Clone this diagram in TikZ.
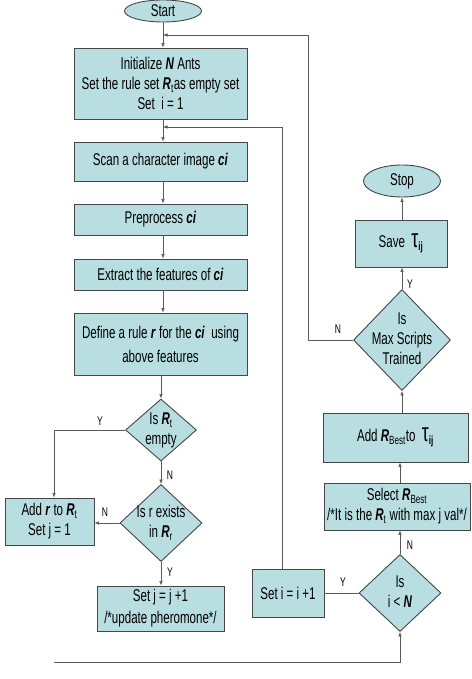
\documentclass[tikz,border=0pt]{standalone}
\usepackage{fontspec}
\setmainfont{Liberation Sans}[FakeStretch=0.68]
\usetikzlibrary{shapes.geometric,arrows.meta}
\definecolor{boxfill}{RGB}{184,222,226}
\definecolor{boxline}{RGB}{70,70,70}
\definecolor{conn}{RGB}{90,90,90}
\newcommand{\bi}[1]{\textbf{\textit{#1}}}
\newcommand{\tauij}{{\fontsize{26}{26}\selectfont τ}\textsubscript{\textbf{ij}}}
\newcommand{\dtext}[1]{\makebox[0pt]{\smash{\raisebox{-0.3em}{\begin{tabular}{@{}c@{}}#1\end{tabular}}}}}
\begin{document}
\begin{tikzpicture}[x=1pt,y=-1pt,
  every node/.style={font=\fontsize{17}{20}\selectfont},
  procbox/.style={draw=boxline,fill=boxfill,line width=0.9pt,rectangle,align=center,inner sep=1pt},
  termin/.style={draw=boxline,fill=boxfill,line width=0.9pt,ellipse,inner sep=0pt},
  decide/.style={draw=boxline,fill=boxfill,line width=0.9pt,diamond,inner sep=0pt},
  conline/.style={draw=conn,line width=0.6pt},
  arr/.style={conline,-{Latex[length=4.5pt,width=3.5pt]}},
  lbl/.style={font=\fontsize{12.5}{14}\selectfont,inner sep=0pt}
]
\useasboundingbox (0,0) rectangle (471,679);
% terminals
\node[termin,minimum width=77pt,minimum height=22pt] (start) at (163,11) {Start};
\node[termin,minimum width=77pt,minimum height=32pt] (stop) at (402,181) {Stop};
% left column
\node[procbox,minimum width=173pt,minimum height=71pt] (init) at (160.5,83.5)
  {Initialize \bi{N} Ants\\Set the rule set \bi{R}\textsubscript{t}as empty set\\Set\ \ i = 1};
\node[procbox,minimum width=173pt,minimum height=39pt] (scan) at (160.5,161.5)
  {Scan a character image \bi{ci}};
\node[procbox,minimum width=173pt,minimum height=31pt] (prep) at (160.5,219.5)
  {Preprocess \bi{ci}};
\node[procbox,minimum width=173pt,minimum height=31pt] (extr) at (160.5,274.5)
  {Extract the features of \bi{ci}};
\node[procbox,minimum width=173pt,minimum height=62pt,font=\fontsize{17}{24}\selectfont] (defn) at (160.5,344)
  {Define a rule \bi{r} for the \bi{ci}\ \ using\\above features};
\node[decide,minimum width=71pt,minimum height=62pt] (d1) at (161,430)
  {\dtext{Is \bi{R}\textsubscript{t}\\empty}};
\node[decide,minimum width=82pt,minimum height=77pt] (d2) at (161,523)
  {\dtext{Is r exists\\in \bi{R}\textsubscript{r}}};
\node[procbox,minimum width=89pt,minimum height=47pt] (addr) at (49.5,521.5)
  {Add \bi{r} to \bi{R}\textsubscript{t}\\Set j = 1};
\node[procbox,minimum width=127pt,minimum height=45pt,font=\fontsize{17}{22}\selectfont] (setj) at (160.5,608.5)
  {Set j = j +1\\/*update pheromone*/};
% right column
\node[procbox,minimum width=72pt,minimum height=48pt] (seti) at (288,593)
  {Set i = i +1};
\node[decide,minimum width=82pt,minimum height=77pt] (d3) at (400,593)
  {\dtext{Is\\i < \bi{N}}};
\node[procbox,minimum width=146pt,minimum height=47pt,inner sep=0pt] (sel) at (397,506.5)
  {Select \bi{R}\textsubscript{Best}\\/*It is the \bi{R}\textsubscript{t} with max j val*/};
\node[procbox,minimum width=145pt,minimum height=49pt] (addb) at (395.5,437.5)
  {Add \bi{R}\textsubscript{Best}to\ \ \tauij};
\node[decide,minimum width=97pt,minimum height=101pt] (d4) at (402,340)
  {\dtext{Is\\Max Scripts\\Trained}};
\node[procbox,minimum width=92pt,minimum height=47pt] (save) at (401,243.5)
  {Save\ \ \tauij};
% coordinates
\coordinate (fb1) at (163,35);
\coordinate (fb2) at (163,127);
\coordinate (bl) at (54,662);
% connectors
\draw[arr] (start.south) -- (start.south |- init.north);
\draw[arr] (init.south -| start.south) -- (start.south |- scan.north);
\draw[arr] (scan.south -| start.south) -- (start.south |- prep.north);
\draw[arr] (prep.south -| start.south) -- (start.south |- extr.north);
\draw[arr] (extr.south -| start.south) -- (start.south |- defn.north);
\draw[arr] (defn.south -| d1.north) -- (d1.north);
\draw[arr] (d1.south) -- (d2.north);
\draw[arr] (d1.west) -| ([xshift=4.5pt]addr.north);
\draw[arr] (d2.west) -- (d2.west -| addr.east);
\draw[arr] (d2.south) -- (d2.south |- setj.north);
\draw[arr] (d4.west) -| (308,35) -- (fb1);
\draw[arr] ([xshift=-6pt]seti.north) |- (fb2);
\draw[conline] (d3.west) -- (seti.east);
\draw[arr] (bl) -| (d3.south);
\draw[arr] (d3.north) -- (d3.north |- sel.south);
\draw[arr] (sel.north -| d3.north) -- (d3.north |- addb.south);
\draw[arr] (addb.north -| d4.south) -- (d4.south);
\draw[arr] (d4.north) -- (d4.north |- save.south);
\draw[arr] (save.north -| stop.south) -- (stop.south);
% labels
\node[lbl] (ly1) at (100,421) {Y};
\node[lbl] (ln1) at (170,475) {N};
\node[lbl] (ln2) at (105,512) {N};
\node[lbl] (ly2) at (170,572) {Y};
\node[lbl] (ly3) at (343,582) {Y};
\node[lbl] (ln3) at (410,545) {N};
\node[lbl] (ln4) at (338,329) {N};
\node[lbl] (ly4) at (410,284) {Y};
\end{tikzpicture}
\end{document}
